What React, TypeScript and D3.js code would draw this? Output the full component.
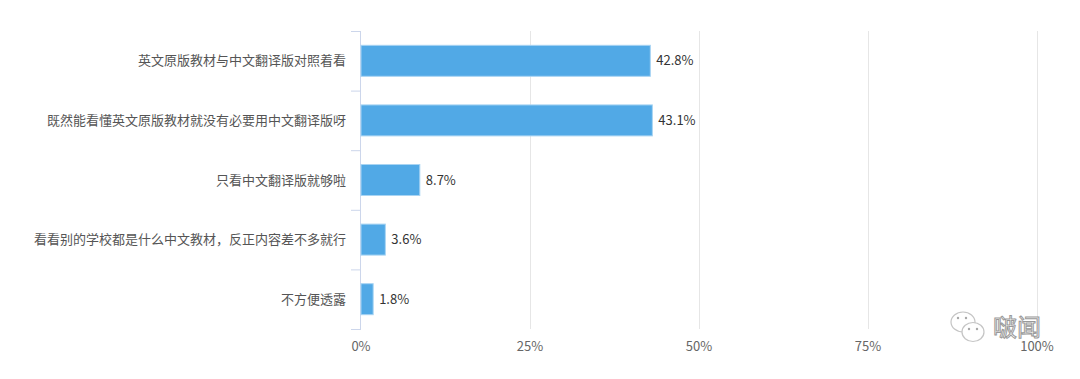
import React from "react";
import * as d3 from "d3";

const categories = [
  "英文原版教材与中文翻译版对照着看",
  "既然能看懂英文原版教材就没有必要用中文翻译版呀",
  "只看中文翻译版就够啦",
  "看看别的学校都是什么中文教材，反正内容差不多就行",
  "不方便透露",
];
const values = [42.8, 43.1, 8.7, 3.6, 1.8];
const ticks = [0, 25, 50, 75, 100];

const W = 1080, H = 379;
const margin = { left: 361, right: 43, top: 31, bottom: 50 };
const FONT = "'Noto Sans CJK SC', 'Noto Sans', sans-serif";

export default function App() {
  const x = d3.scaleLinear().domain([0, 100]).range([margin.left, W - margin.right]);
  const y = d3.scaleBand<string>().domain(categories).range([margin.top, H - margin.bottom]).paddingInner(0.48).paddingOuter(0.24);
  const bounds = d3.range(categories.length + 1).map((i) => margin.top + i * ((H - margin.bottom - margin.top) / categories.length));
  return (
    <svg width={W} height={H} style={{ position: "absolute", left: 0, top: 0, background: "#fff" }} fontFamily={FONT}>
      {ticks.slice(1).map((t) => (
        <line key={t} x1={x(t) + 0.5} x2={x(t) + 0.5} y1={margin.top} y2={H - margin.bottom} stroke="#e6e6e6" strokeWidth={1} />
      ))}
      <line x1={margin.left - 0.5} x2={margin.left - 0.5} y1={margin.top} y2={H - margin.bottom} stroke="#ccd6eb" strokeWidth={1} />
      {bounds.map((b, i) => (
        <line key={i} x1={margin.left - 10} x2={margin.left} y1={b + 0.5} y2={b + 0.5} stroke="#ccd6eb" strokeWidth={1} />
      ))}
      {categories.map((c, i) => {
        const yc = (y(c) as number) + y.bandwidth() / 2;
        return (
          <g key={c}>
            <rect x={x(0)} y={y(c)} width={x(values[i]) - x(0)} height={y.bandwidth()} fill="#51a9e6" stroke="#a8d4f3" strokeWidth={1} />
            <text x={margin.left - 15} y={yc} dy="0.35em" textAnchor="end" fontSize={13} fill="#555">{c}</text>
            <text x={x(values[i]) + 6} y={yc} dy="0.35em" fontSize={13} fill="#333">{values[i]}%</text>
          </g>
        );
      })}
      {ticks.map((t) => (
        <text key={t} x={x(t)} y={H - margin.bottom + 22} textAnchor="middle" fontSize={13} fill="#666">{t}%</text>
      ))}
      <g opacity={0.85}>
        <ellipse cx={963} cy={322} rx={12} ry={10} fill="#fff" stroke="#bbb" strokeWidth={1.2} />
        <ellipse cx={973} cy={332} rx={11} ry={9.5} fill="#fff" stroke="#bbb" strokeWidth={1.2} />
        <circle cx={958} cy={318} r={1.2} fill="#999" />
        <circle cx={966} cy={318} r={1.2} fill="#999" />
        <circle cx={969} cy={329} r={1.2} fill="#999" />
        <circle cx={977} cy={329} r={1.2} fill="#999" />
        <text x={993} y={336} fontSize={24} fill="#fff" stroke="#888" strokeWidth={1} fontFamily={FONT}>啵闻</text>
      </g>
    </svg>
  );
}
